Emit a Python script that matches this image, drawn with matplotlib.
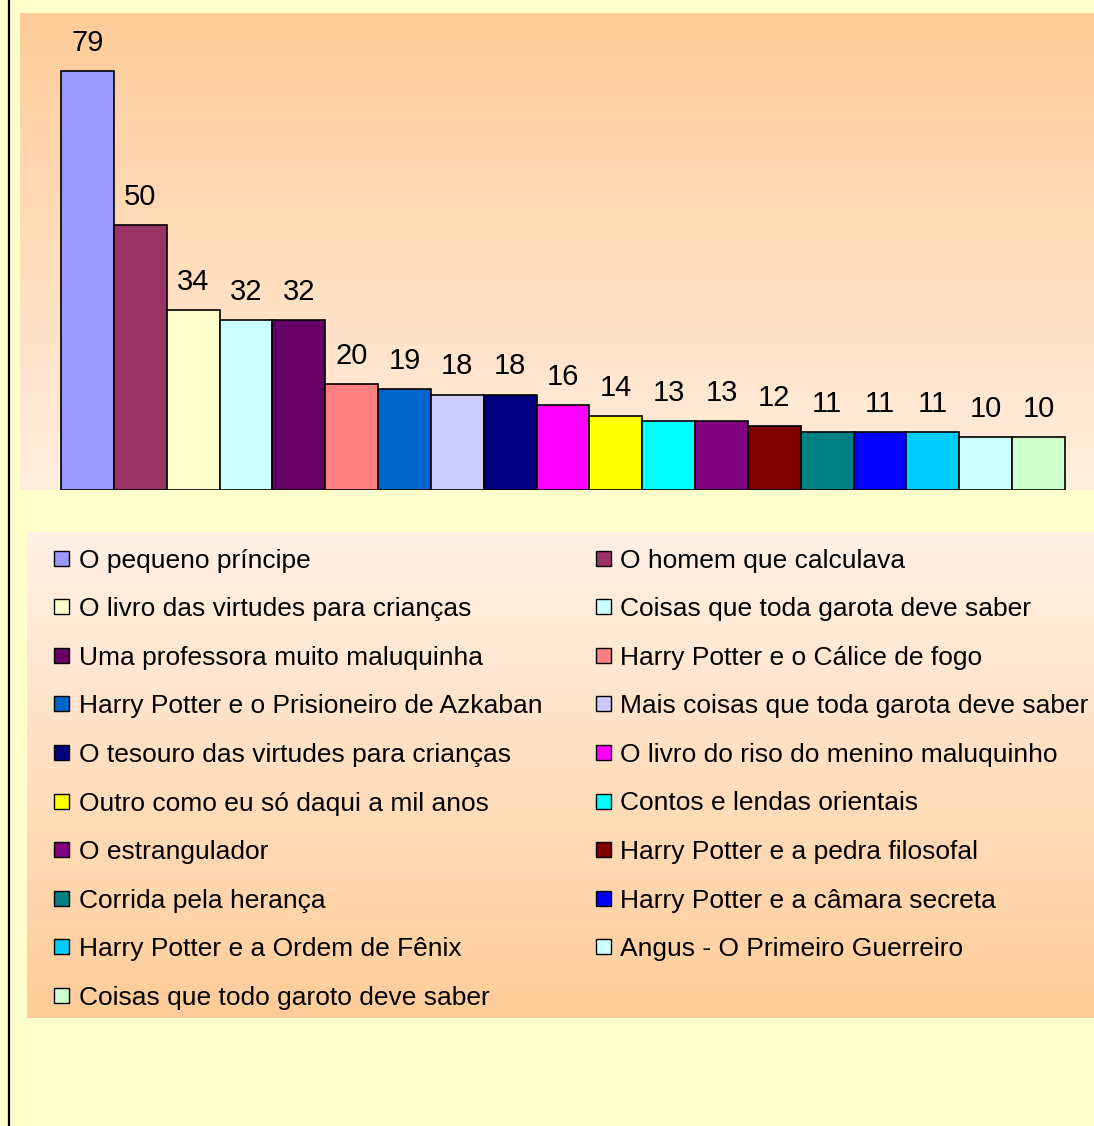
import numpy as np
import matplotlib
matplotlib.use("Agg")
import matplotlib.pyplot as plt
from matplotlib.colors import LinearSegmentedColormap
from matplotlib.patches import Rectangle
from matplotlib.lines import Line2D

plt.rcParams['font.family'] = ['Liberation Sans', 'DejaVu Sans']

titles = [
    "O pequeno príncipe",
    "O homem que calculava",
    "O livro das virtudes para crianças",
    "Coisas que toda garota deve saber",
    "Uma professora muito maluquinha",
    "Harry Potter e o Cálice de fogo",
    "Harry Potter e o Prisioneiro de Azkaban",
    "Mais coisas que toda garota deve saber",
    "O tesouro das virtudes para crianças",
    "O livro do riso do menino maluquinho",
    "Outro como eu só daqui a mil anos",
    "Contos e lendas orientais",
    "O estrangulador",
    "Harry Potter e a pedra filosofal",
    "Corrida pela herança",
    "Harry Potter e a câmara secreta",
    "Harry Potter e a Ordem de Fênix",
    "Angus - O Primeiro Guerreiro",
    "Coisas que todo garoto deve saber",
]
values = [79, 50, 34, 32, 32, 20, 19, 18, 18, 16, 14, 13, 13, 12, 11, 11, 11, 10, 10]
colors = ["#9999FF", "#993366", "#FFFFCC", "#CCFFFF", "#660066", "#FF8080",
          "#0066CC", "#CCCCFF", "#000080", "#FF00FF", "#FFFF00", "#00FFFF",
          "#800080", "#800000", "#008080", "#0000FF", "#00CCFF", "#CCFFFF",
          "#CCFFCC"]

W, H = 1094, 1126
fig = plt.figure(figsize=(W / 100, H / 100), dpi=100, facecolor="#FFFFCC")

# left border line
fig.add_artist(Line2D([8.5 / W, 8.5 / W], [0, 1], color="black", lw=1.6,
                      transform=fig.transFigure))

# ---- bar chart ----
ax = fig.add_axes([20 / W, 1 - 490 / H, 1074 / W, 477 / H])
x = np.arange(len(values))
xlim = (-1.276, 19.05)
ylim = (0, 90)
grad = LinearSegmentedColormap.from_list("g1", ["#FFEEDF", "#FFCC99"])
ax.imshow(np.linspace(0, 1, 256).reshape(-1, 1), cmap=grad, origin="lower",
          extent=(*xlim, *ylim), aspect="auto", zorder=0)
ax.bar(x, values, width=1.0, color=colors, edgecolor="black", linewidth=1.2,
       zorder=2)
for xi, v in zip(x, values):
    ax.annotate(str(v), (xi, v), xytext=(0, 14.5), textcoords="offset points",
                ha="center", va="baseline", fontsize=21, color="black")
ax.set_xlim(*xlim)
ax.set_ylim(*ylim)
ax.set_axis_off()

# ---- legend panel ----
lx0, ly0, lw, lh = 27, 532, 1067, 486
lax = fig.add_axes([lx0 / W, 1 - (ly0 + lh) / H, lw / W, lh / H])
grad2 = LinearSegmentedColormap.from_list("g2", ["#FFF1E6", "#FFCC99"])
lax.imshow(np.linspace(0, 1, 256).reshape(-1, 1), cmap=grad2, origin="upper",
           extent=(0, lw, lh, 0), aspect="auto", zorder=0)
lax.set_xlim(0, lw)
lax.set_ylim(lh, 0)
lax.set_axis_off()

col_marker_x = [54 - lx0, 596 - lx0]
col_text_x = [79 - lx0, 620 - lx0]
row0 = 558 - ly0
row_step = 48.6
msize = 15
for i, (t, c) in enumerate(zip(titles, colors)):
    r, col = divmod(i, 2)
    yc = row0 + r * row_step
    lax.add_patch(Rectangle((col_marker_x[col], yc - msize / 2), msize, msize,
                            facecolor=c, edgecolor="black", linewidth=1.0,
                            zorder=2))
    lax.text(col_text_x[col], yc + 9.5, t, fontsize=19, va="baseline",
             ha="left", color="black", zorder=3)

fig.savefig("out.png", dpi=100, facecolor=fig.get_facecolor())
